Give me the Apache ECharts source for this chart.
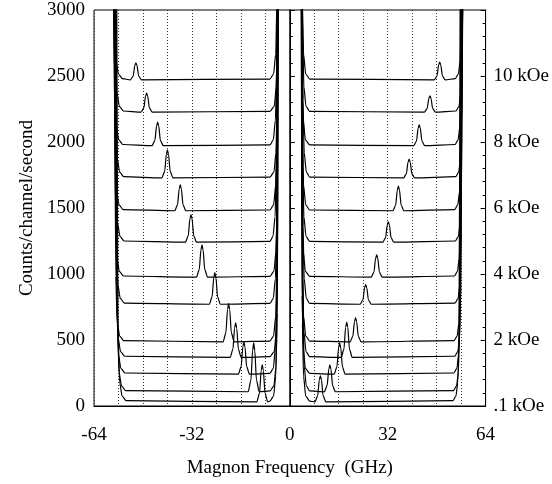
<!DOCTYPE html>
<html>
<head>
<meta charset="utf-8">
<script src="https://cdn.jsdelivr.net/npm/echarts@6/dist/echarts.min.js"></script>
<style>
  html, body { margin: 0; padding: 0; background: #fff; }
  #chart { width: 552px; height: 484px; }
</style>
</head>
<body>
<div id="chart"></div>
<script>
// 磁场标签（右轴）
var fieldLabels = ['.1 kOe', '2 kOe', '4 kOe', '6 kOe', '8 kOe', '10 kOe'];
var fieldNames = ['10 kOe', '9 kOe', '8 kOe', '7 kOe', '6 kOe', '5 kOe', '4 kOe', '3 kOe', '2 kOe', '1.5 kOe', '1 kOe', '0.5 kOe', '0.1 kOe'];

// 各谱线 [频率 GHz, 计数]
var s10 = [[-57.8,3300],[-57.3,2965],[-56.8,2615],[-56.0,2515],[-54.7,2480],
  [-52.1,2471],[-51.2,2499],[-50.65,2580],[-50.3,2600],[-49.95,2580],[-49.4,2499],[-48.5,2471],
  [-6.5,2477],[-5.3,2515],[-4.6,2665],[-4.2,3065],[-3.9,3300],
  [3.8,3300],[4.1,3065],[4.5,2665],[5.2,2515],[6.5,2477],
  [47.2,2471],[48.1,2500],[48.65,2584],[49.0,2605],[49.35,2584],[49.9,2500],[50.8,2471],
  [54.1,2480],[55.1,2515],[55.7,2615],[56.1,2965],[56.5,3300]];
var s9 = [[-57.5,3300],[-57.0,2720],[-56.5,2370],[-55.7,2270],[-54.4,2235],
  [-48.6,2226],[-47.7,2258],[-47.15,2348],[-46.8,2370],[-46.45,2348],[-45.9,2258],[-45.0,2226],
  [-6.5,2232],[-5.1,2270],[-4.4,2420],[-4.0,2820],[-3.7,3300],
  [3.9,3300],[4.2,2820],[4.6,2420],[5.3,2270],[6.5,2232],
  [44.0,2226],[44.9,2253],[45.45,2331],[45.8,2350],[46.15,2331],[46.7,2253],[47.6,2226],
  [54.3,2235],[55.3,2270],[55.9,2370],[56.3,2720],[56.7,3300]];
var s8 = [[-57.7,3300],[-57.2,2466],[-56.7,2116],[-55.9,2016],[-54.6,1981],
  [-45.0,1972],[-44.1,2012],[-43.55,2122],[-43.2,2150],[-42.85,2122],[-42.3,2012],[-41.4,1972],
  [-6.5,1978],[-5.4,2016],[-4.7,2166],[-4.3,2566],[-4.0,3300],
  [3.7,3300],[4.0,2566],[4.4,2166],[5.1,2016],[6.5,1978],
  [40.5,1972],[41.4,2007],[41.95,2105],[42.3,2130],[42.65,2105],[43.2,2007],[44.1,1972],
  [54.0,1981],[55.0,2016],[55.6,2116],[56.0,2466],[56.4,3300]];
var s7 = [[-57.4,3300],[-56.9,2222],[-56.4,1872],[-55.6,1772],[-54.3,1737],
  [-41.8,1728],[-40.9,1777],[-40.35,1907],[-40.0,1940],[-39.65,1907],[-39.1,1777],[-38.2,1728],
  [-6.5,1734],[-5.2,1772],[-4.5,1922],[-4.1,2322],[-3.8,3300],
  [4.0,3300],[4.3,2322],[4.7,1922],[5.4,1772],[6.5,1734],
  [37.2,1728],[38.1,1759],[38.65,1848],[39.0,1870],[39.35,1848],[39.9,1759],[40.8,1728],
  [54.2,1737],[55.2,1772],[55.8,1872],[56.2,2222],[56.6,3300]];
var s6 = [[-57.6,3300],[-57.1,1973],[-56.6,1623],[-55.8,1523],[-54.5,1488],
  [-37.6,1479],[-36.7,1524],[-36.15,1645],[-35.8,1675],[-35.45,1645],[-34.9,1524],[-34.0,1479],
  [-6.5,1485],[-5.3,1523],[-4.6,1673],[-4.2,2073],[-3.9,3300],
  [3.8,3300],[4.1,2073],[4.5,1673],[5.2,1523],[6.5,1485],
  [33.7,1479],[34.6,1521],[35.15,1636],[35.5,1665],[35.85,1636],[36.4,1521],[37.3,1479],
  [53.9,1488],[54.9,1523],[55.5,1623],[55.9,1973],[56.3,3300]];
var s5 = [[-57.3,3300],[-56.8,1735],[-56.3,1385],[-55.5,1285],[-54.2,1250],
  [-34.1,1241],[-33.2,1289],[-32.65,1418],[-32.3,1450],[-31.95,1418],[-31.4,1289],[-30.5,1241],
  [-6.5,1247],[-5.5,1285],[-4.8,1435],[-4.4,1835],[-4.1,3300],
  [3.9,3300],[4.2,1835],[4.6,1435],[5.3,1285],[6.5,1247],
  [30.4,1241],[31.3,1275],[31.85,1371],[32.2,1395],[32.55,1371],[33.1,1275],[34.0,1241],
  [54.1,1250],[55.1,1285],[55.7,1385],[56.1,1735],[56.5,3300]];
var s4 = [[-57.5,3300],[-57.0,1470],[-56.5,1120],[-55.7,1020],[-54.4,985],
  [-30.5,976],[-29.6,1033],[-29.05,1183],[-28.7,1220],[-28.35,1183],[-27.8,1033],[-26.9,976],
  [-6.5,982],[-5.2,1020],[-4.5,1170],[-4.1,1570],[-3.8,3300],
  [3.7,3300],[4.0,1570],[4.4,1170],[5.1,1020],[6.5,982],
  [26.6,976],[27.5,1014],[28.05,1119],[28.4,1145],[28.75,1119],[29.3,1014],[30.2,976],
  [53.8,985],[54.8,1020],[55.4,1120],[55.8,1470],[56.2,3300]];
var s3 = [[-57.2,3300],[-56.7,1265],[-56.2,915],[-55.4,815],[-54.1,780],
  [-26.3,771],[-25.4,826],[-24.85,973],[-24.5,1010],[-24.15,973],[-23.6,826],[-22.7,771],
  [-6.5,777],[-5.4,815],[-4.7,965],[-4.3,1365],[-4.0,3300],
  [4.0,3300],[4.3,1365],[4.7,965],[5.4,815],[6.5,777],
  [23.0,771],[23.9,804],[24.45,897],[24.8,920],[25.15,897],[25.7,804],[26.6,771],
  [54.0,780],[55.0,815],[55.6,915],[56.0,1265],[56.4,3300]];
var s2 = [[-57.4,3300],[-56.9,980],[-56.4,630],[-55.6,530],[-54.3,495],
  [-21.8,486],[-20.9,554],[-20.35,731],[-20.0,775],[-19.65,731],[-19.1,554],[-18.2,486],
  [-6.5,492],[-5.3,530],[-4.6,680],[-4.2,1080],[-3.9,3300],
  [3.8,3300],[4.1,1080],[4.5,680],[5.2,530],[6.5,492],
  [19.7,486],[20.6,527],[21.15,640],[21.5,668],[21.85,640],[22.4,527],[23.3,486],
  [53.7,495],[54.7,530],[55.3,630],[55.7,980],[56.1,3300]];
var s15 = [[-57.1,3300],[-56.6,862],[-56.1,512],[-55.3,412],[-54.0,377],
  [-19.5,368],[-18.6,429],[-18.05,590],[-17.7,630],[-17.35,590],[-16.8,429],[-15.9,368],
  [-6.5,374],[-5.1,412],[-4.4,562],[-4.0,962],[-3.7,3300],
  [3.9,3300],[4.2,962],[4.6,562],[5.3,412],[6.5,374],
  [16.8,368],[17.7,431],[18.25,595],[18.6,636],[18.95,595],[19.5,431],[20.4,368],
  [53.9,377],[54.9,412],[55.5,512],[55.9,862],[56.3,3300]];
var s1 = [[-57.0,3300],[-56.5,735],[-56.0,385],[-55.2,285],[-53.9,250],
  [-16.8,241],[-15.9,298],[-15.35,448],[-15.0,485],[-14.65,448],[-14.1,298],[-13.2,241],
  [-6.5,247],[-5.4,285],[-4.7,435],[-4.3,835],[-4.0,3300],
  [3.7,3300],[4.0,835],[4.4,435],[5.1,285],[6.5,247],
  [14.5,241],[15.4,296],[15.95,442],[16.3,478],[16.65,442],[17.2,296],[18.1,241],
  [53.6,250],[54.6,285],[55.2,385],[55.6,735],[56.0,3300]];
var s05 = [[-56.8,3300],[-56.3,602],[-55.8,252],[-55.0,152],[-53.7,117],
  [-13.6,108],[-12.7,196],[-12.15,422],[-11.8,478],[-11.45,422],[-10.9,196],[-10.0,108],
  [-6.5,114],[-5.2,152],[-4.5,302],[-4.1,702],[-3.8,3300],
  [4.0,3300],[4.3,702],[4.7,302],[5.4,152],[6.5,114],
  [11.3,108],[12.2,154],[12.75,280],[13.1,311],[13.45,280],[14.0,154],[14.9,108],
  [53.5,117],[54.5,152],[55.1,252],[55.5,602],[55.9,3300]];
var s01 = [[-56.6,3300],[-56.1,525],[-55.6,175],[-54.8,75],[-53.5,40],
  [-10.8,31],[-9.9,97],[-9.35,268],[-9.0,311],[-8.65,268],[-8.1,97],[-7.2,31],
  [-6.5,37],[-5.3,75],[-4.6,225],[-4.2,625],[-3.9,3300],
  [3.8,3300],[4.1,625],[4.5,225],[5.2,75],[6.5,37],
  [8.2,31],[9.1,76],[9.65,198],[10.0,228],[10.35,198],[10.9,76],[11.8,31],
  [53.3,40],[54.3,75],[54.9,175],[55.3,525],[55.7,3300]];

var spectra = [s10, s9, s8, s7, s6, s5, s4, s3, s2, s15, s1, s05, s01];

var myChart = echarts.init(document.getElementById('chart'), null, { renderer: 'canvas' });

var font = 'Liberation Serif';
var dotted = { color: '#333', width: 1, type: [1, 2] };

var series = spectra.map(function (d, i) {
  var s = {
    name: fieldNames[i],
    type: 'line',
    data: d,
    showSymbol: false,
    smooth: 0.25,
    smoothMonotone: 'x',
    clip: true,
    lineStyle: { color: '#000', width: 1.2 },
    animation: false
  };
  if (i === 0) {
    // 零频率竖线
    s.markLine = {
      silent: true,
      symbol: ['none', 'none'],
      label: { show: false },
      lineStyle: { color: '#000', type: 'solid', width: 1 },
      data: [{ xAxis: 0 }]
    };
  }
  return s;
});

var option = {
  backgroundColor: '#fff',
  animation: false,
  grid: {
    left: 94, right: 60, top: 10, bottom: 78,
    show: true, borderColor: '#000', borderWidth: 1
  },
  xAxis: {
    type: 'value',
    min: -64, max: 64, interval: 32,
    name: 'Magnon Frequency  (GHz)',
    nameLocation: 'middle',
    nameGap: 53,
    nameTextStyle: { fontFamily: font, fontSize: 19, color: '#000' },
    axisLine: { lineStyle: { color: '#000', width: 1 } },
    axisTick: { show: false },
    axisLabel: { fontFamily: font, fontSize: 19, color: '#000', margin: 20 },
    splitLine: { show: true, lineStyle: dotted },
    minorTick: { show: false, splitNumber: 4 },
    minorSplitLine: { show: true, lineStyle: dotted }
  },
  yAxis: [
    {
      type: 'value',
      position: 'left',
      min: 0, max: 3000, interval: 500,
      name: 'Counts/channel/second',
      nameLocation: 'middle',
      nameGap: 57,
      nameTextStyle: { fontFamily: font, fontSize: 19, color: '#000' },
      axisLine: { show: true, lineStyle: { color: '#000', width: 1.5 } },
      axisTick: { show: true, inside: true, length: 5, lineStyle: { color: '#000' } },
      minorTick: { show: true, splitNumber: 5, length: 3, lineStyle: { color: '#000' } },
      axisLabel: {
        fontFamily: font, fontSize: 19, color: '#000', margin: 9,
        formatter: function (v) { return String(v); }
      },
      splitLine: { show: false }
    },
    {
      type: 'value',
      position: 'right',
      min: 0, max: 3000, interval: 500,
      axisLine: { show: true, lineStyle: { color: '#000', width: 1 } },
      axisTick: { show: true, inside: true, length: 5, lineStyle: { color: '#000' } },
      minorTick: { show: true, splitNumber: 5, length: 3, lineStyle: { color: '#000' } },
      axisLabel: {
        fontFamily: font, fontSize: 19, color: '#000', margin: 8,
        formatter: function (v) { return fieldLabels[v / 500] || ''; }
      },
      splitLine: { show: false }
    }
  ],
  series: series
};

myChart.setOption(option);
</script>
</body>
</html>
